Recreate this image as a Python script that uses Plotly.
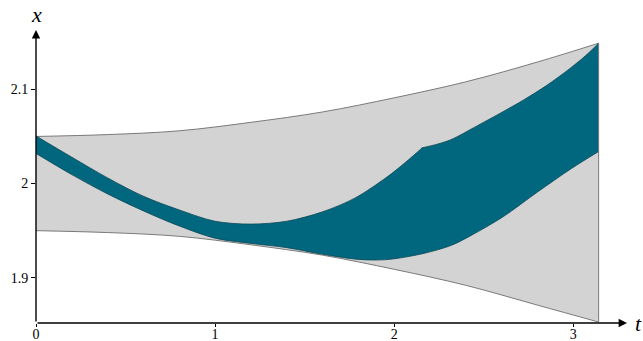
import math
import plotly.graph_objects as go

PI = math.pi

# Outer envelope (grey band)
t_env = [0.0, 0.4, 0.8, 1.2, 1.6, 2.0, 2.4, 2.8, PI]
env_upper = [2.050, 2.052, 2.056, 2.065, 2.076, 2.091, 2.108, 2.129, 2.149]
env_lower = [1.950, 1.948, 1.944, 1.935, 1.924, 1.909, 1.892, 1.871, 1.853]

# Inner reachable band (teal); its upper edge has a corner at T_KINK
T_KINK = 2.157
t_band_up = [0.0, 0.2, 0.4, 0.6, 0.8, 1.0, 1.2, 1.4, 1.6, 1.78, 1.96, 2.06, T_KINK,
             2.24, 2.316, 2.465, 2.6, 2.725, 2.85, 2.98, 3.07, PI]
band_upper = [2.0505, 2.028, 2.006, 1.9865, 1.972, 1.960, 1.957, 1.960, 1.970, 1.9845,
              2.007, 2.022, 2.038, 2.0418, 2.0465, 2.0615, 2.0755, 2.089, 2.104, 2.122,
              2.136, 2.149]
t_band_lo = [0.0, 0.2, 0.4, 0.6, 0.8, 1.0, 1.2, 1.4, 1.6, 1.8, 1.96, T_KINK, 2.32,
             2.43, 2.61, 2.8, 2.99, PI]
band_lower = [2.032, 2.0095, 1.989, 1.971, 1.955, 1.942, 1.9365, 1.932, 1.925, 1.9195,
              1.9193, 1.9255, 1.9345, 1.945, 1.965, 1.991, 2.016, 2.034]

x_ticks = [0, 1, 2, 3]
x_tick_text = ["0", "1", "2", "3"]
y_ticks = [1.9, 2.0, 2.1]
y_tick_text = ["1.9", "2", "2.1"]

GREY_FILL = "#d3d3d3"
GREY_LINE = "#7a7a7a"
TEAL_FILL = "#00677f"
TEAL_LINE = "#0b4756"
SERIF = "Liberation Serif"


def split(ts, vs, t0):
    """Cut a sampled edge at t0 into the part before and the part after it."""
    left = [(t, v) for t, v in zip(ts, vs) if t <= t0]
    right = [(t, v) for t, v in zip(ts, vs) if t >= t0]
    return (list(zip(*left)), list(zip(*right)))


(up_a, up_b) = split(t_band_up, band_upper, T_KINK)
(lo_a, lo_b) = split(t_band_lo, band_lower, T_KINK)

SPL = dict(shape="spline", smoothing=0.9)

fig = go.Figure()

# grey envelope
fig.add_trace(go.Scatter(x=t_env, y=env_lower, mode="lines",
                         line=dict(color=GREY_LINE, width=1, shape="spline", smoothing=1.0),
                         hoverinfo="skip"))
fig.add_trace(go.Scatter(x=t_env, y=env_upper, mode="lines", fill="tonexty",
                         fillcolor=GREY_FILL,
                         line=dict(color=GREY_LINE, width=1, shape="spline", smoothing=1.0),
                         hoverinfo="skip"))

# teal band, filled in two pieces either side of the corner
for lo, up in ((lo_a, up_a), (lo_b, up_b)):
    fig.add_trace(go.Scatter(x=lo[0], y=lo[1], mode="lines",
                             line=dict(width=0, **SPL), hoverinfo="skip"))
    fig.add_trace(go.Scatter(x=up[0], y=up[1], mode="lines", fill="tonexty",
                             fillcolor=TEAL_FILL, line=dict(width=0, **SPL),
                             hoverinfo="skip"))

# cover the join between the two pieces
fig.add_trace(go.Scatter(x=[T_KINK, T_KINK], y=[lo_b[1][0], up_b[1][0]], mode="lines",
                         line=dict(color=TEAL_FILL, width=2), hoverinfo="skip"))

# teal outlines
fig.add_trace(go.Scatter(x=t_band_lo, y=band_lower, mode="lines",
                         line=dict(color=TEAL_LINE, width=0.8, **SPL), hoverinfo="skip"))
for up in (up_a, up_b):
    fig.add_trace(go.Scatter(x=up[0], y=up[1], mode="lines",
                             line=dict(color=TEAL_LINE, width=0.8, **SPL),
                             hoverinfo="skip"))

# right closing edge of the envelope
fig.add_trace(go.Scatter(x=[t_env[-1], t_env[-1]], y=[env_lower[-1], env_upper[-1]],
                         mode="lines", line=dict(color=GREY_LINE, width=1),
                         hoverinfo="skip"))

X_RANGE = [0, 3.30]
Y_RANGE = [1.852, 2.163]

fig.update_layout(
    width=643, height=341,
    margin=dict(l=35.5, r=16.3, t=30, b=18, pad=0),
    paper_bgcolor="white", plot_bgcolor="white",
    showlegend=False,
    xaxis=dict(range=X_RANGE, showgrid=False, zeroline=False, showline=False,
               automargin=False,
               tickvals=x_ticks, ticktext=x_tick_text, ticks="outside", ticklen=3,
               tickwidth=1, tickcolor="black", ticklabelstandoff=-5,
               tickfont=dict(family=SERIF, size=14, color="black")),
    yaxis=dict(range=Y_RANGE, showgrid=False, zeroline=False, showline=False,
               automargin=False,
               tickvals=y_ticks, ticktext=y_tick_text, ticks="outside", ticklen=4,
               tickwidth=1, tickcolor="black",
               tickfont=dict(family=SERIF, size=14, color="black")),
    annotations=[
        # horizontal axis with arrow
        dict(x=X_RANGE[1], y=Y_RANGE[0], ax=0, ay=Y_RANGE[0], xref="x", yref="y",
             axref="x", ayref="y", text="", showarrow=True, arrowhead=2,
             arrowsize=1.2, arrowwidth=1.4, arrowcolor="black", standoff=0),
        # vertical axis with arrow
        dict(x=0, y=Y_RANGE[1], ax=0, ay=Y_RANGE[0], xref="x", yref="y",
             axref="x", ayref="y", text="", showarrow=True, arrowhead=2,
             arrowsize=1.2, arrowwidth=1.4, arrowcolor="black", standoff=0),
        dict(x=0, y=1.0, xref="x", yref="paper", yshift=16, text="<i>x</i>",
             showarrow=False, font=dict(family=SERIF, size=22, color="black"),
             xanchor="center", yanchor="middle"),
        dict(x=1.0, y=Y_RANGE[0], xref="paper", yref="y", xshift=11, text="<i>t</i>",
             showarrow=False, font=dict(family=SERIF, size=22, color="black"),
             xanchor="center", yanchor="middle"),
    ],
)

fig.write_html("out.html")
